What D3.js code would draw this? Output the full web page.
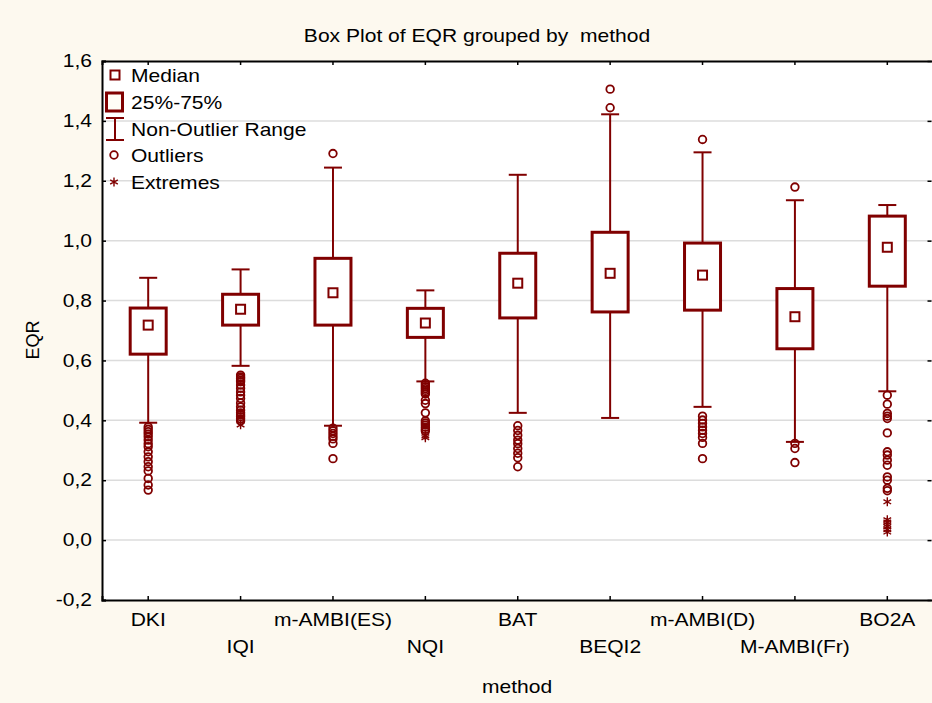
<!DOCTYPE html>
<html>
<head>
<meta charset="utf-8">
<script src="https://cdn.jsdelivr.net/npm/d3@7"></script>
<style>
  html, body { margin: 0; padding: 0; background: #fdf9ef; }
  svg { display: block; }
  text { font-family: "Liberation Sans", Arial, sans-serif; fill: #000; white-space: pre; }
</style>
</head>
<body>
<svg id="chart" width="932" height="703"></svg>
<script>
// EQR box-plot statistics per assessment method
const categories = ["DKI", "IQI", "m-AMBI(ES)", "NQI", "BAT", "BEQI2", "m-AMBI(D)", "M-AMBI(Fr)", "BO2A"];
const whiskerLow  = [0.392, 0.582, 0.382, 0.530, 0.425, 0.408, 0.445, 0.328, 0.497];
const q1          = [0.621, 0.718, 0.718, 0.677, 0.742, 0.762, 0.768, 0.639, 0.848];
const median      = [0.718, 0.771, 0.826, 0.725, 0.858, 0.891, 0.885, 0.746, 0.978];
const q3          = [0.775, 0.821, 0.941, 0.774, 0.958, 1.028, 0.992, 0.840, 1.082];
const whiskerHigh = [0.876, 0.904, 1.244, 0.834, 1.220, 1.422, 1.295, 1.135, 1.119];
const outliers = [
  [0.378, 0.370, 0.362, 0.354, 0.345, 0.334, 0.322, 0.312, 0.295, 0.278, 0.262, 0.245, 0.231, 0.206, 0.184, 0.167],
  [0.551, 0.545, 0.540, 0.534, 0.529, 0.518, 0.507, 0.495, 0.484, 0.473, 0.458, 0.445, 0.434, 0.425, 0.418, 0.412, 0.405, 0.398],
  [1.291, 0.374, 0.365, 0.356, 0.347, 0.338, 0.323, 0.272],
  [0.524, 0.518, 0.512, 0.506, 0.500, 0.494, 0.488, 0.467, 0.456, 0.425, 0.398, 0.391, 0.384, 0.377, 0.370, 0.364],
  [0.382, 0.366, 0.350, 0.334, 0.322, 0.306, 0.290, 0.275, 0.245],
  [1.506, 1.444],
  [1.338, 0.414, 0.401, 0.390, 0.378, 0.367, 0.356, 0.343, 0.323, 0.272],
  [1.179, 0.323, 0.306, 0.259],
  [0.484, 0.454, 0.423, 0.414, 0.406, 0.358, 0.295, 0.284, 0.267, 0.250, 0.211, 0.200, 0.173, 0.165]
];
const extremes = [
  [],
  [0.385],
  [],
  [0.348, 0.342],
  [],
  [],
  [],
  [],
  [0.128, 0.068, 0.060, 0.052, 0.045, 0.035, 0.027]
];
const yTicks = [-0.2, 0, 0.2, 0.4, 0.6, 0.8, 1.0, 1.2, 1.4, 1.6];
const legendItems = ["Median", "25%-75%", "Non-Outlier Range", "Outliers", "Extremes"];

const color = "#800000";
const stretch = 1.17;            // horizontal widening of all lettering
const svg = d3.select("#chart");
const plot = { left: 102, right: 933.5, top: 61, bottom: 600 };

const x = d3.scaleBand().domain(categories).range([plot.left, plot.right]).padding(0);
const y = d3.scaleLinear().domain([-0.2, 1.6]).range([plot.bottom, plot.top]);
const cx = c => x(c) + x.bandwidth() / 2;
const fmt = v => d3.format(".1f")(v).replace(".", ",").replace("−", "-");

// text placed at (tx, ty) and widened horizontally around that point
function label(tx, ty, str, size, anchor) {
  return svg.append("text")
    .attr("transform", `translate(${tx},${ty}) scale(${stretch},1)`)
    .attr("text-anchor", anchor || "start")
    .attr("font-size", size)
    .text(str);
}

// plot background
svg.append("rect")
  .attr("x", plot.left).attr("y", plot.top)
  .attr("width", plot.right - plot.left).attr("height", plot.bottom - plot.top)
  .attr("fill", "#ffffff");

// horizontal grid
svg.append("g").selectAll("line").data(yTicks.filter(t => t > -0.2 && t < 1.6)).join("line")
  .attr("x1", plot.left).attr("x2", plot.right)
  .attr("y1", d => y(d)).attr("y2", d => y(d))
  .attr("stroke", "#dcdcdc").attr("stroke-width", 1.5);

// axes
const yAxis = svg.append("g").attr("transform", `translate(${plot.left},0)`)
  .call(d3.axisLeft(y).tickValues(yTicks).tickFormat(fmt).tickSize(-4).tickPadding(8.5));
const yAxisR = svg.append("g").attr("transform", `translate(${plot.right - 2},0)`)
  .call(d3.axisRight(y).tickValues(yTicks).tickFormat("").tickSize(-4));
const xAxis = svg.append("g").attr("transform", `translate(0,${plot.bottom})`)
  .call(d3.axisBottom(x).tickSize(-4).tickPadding(10));
const xAxisTop = svg.append("g").attr("transform", `translate(0,${plot.top})`)
  .call(d3.axisTop(x).tickSize(-4).tickFormat(""));

[yAxis, yAxisR, xAxis, xAxisTop].forEach(g => {
  g.select(".domain").attr("stroke", "#000").attr("stroke-width", 2);
  g.selectAll(".tick line").attr("stroke", "#000").attr("stroke-width", 1.5);
});
yAxisR.select(".domain").remove();
yAxis.selectAll(".tick text")
  .attr("font-size", 18).attr("fill", "#000")
  .attr("transform", `scale(${stretch},1)`);
xAxis.selectAll(".tick text")
  .attr("font-size", 18).attr("fill", "#000")
  .attr("transform", `scale(${stretch},1)`)
  .attr("dy", (d, i) => (i % 2 ? "2.38em" : "0.88em"));

// title and axis titles
label(477, 42, "Box Plot of EQR grouped by  method", 18, "middle");
svg.append("text").attr("transform", "translate(39,340) rotate(-90)").attr("text-anchor", "middle")
  .attr("font-size", 18).text("EQR");
label(517, 693, "method", 18, "middle");

// box plots
const boxW = 36, capW = 18;
const boxes = svg.append("g");
categories.forEach((c, i) => {
  const g = boxes.append("g");
  const xc = cx(c);
  // whiskers
  g.append("line").attr("x1", xc).attr("x2", xc).attr("y1", y(q3[i])).attr("y2", y(whiskerHigh[i]))
    .attr("stroke", color).attr("stroke-width", 2);
  g.append("line").attr("x1", xc).attr("x2", xc).attr("y1", y(q1[i])).attr("y2", y(whiskerLow[i]))
    .attr("stroke", color).attr("stroke-width", 2);
  [whiskerHigh[i], whiskerLow[i]].forEach(v => {
    g.append("line").attr("x1", xc - capW / 2).attr("x2", xc + capW / 2).attr("y1", y(v)).attr("y2", y(v))
      .attr("stroke", color).attr("stroke-width", 2);
  });
  // interquartile box
  g.append("rect").attr("x", xc - boxW / 2).attr("y", y(q3[i]))
    .attr("width", boxW).attr("height", y(q1[i]) - y(q3[i]))
    .attr("fill", "#ffffff").attr("stroke", color).attr("stroke-width", 3);
  // median marker
  g.append("rect").attr("x", xc - 4.5).attr("y", y(median[i]) - 4.5).attr("width", 9).attr("height", 9)
    .attr("fill", "#ffffff").attr("stroke", color).attr("stroke-width", 2);
  // outliers
  g.selectAll("circle").data(outliers[i]).join("circle")
    .attr("cx", xc).attr("cy", d => y(d)).attr("r", 3.8)
    .attr("fill", "none").attr("stroke", color).attr("stroke-width", 1.8);
  // extremes
  g.selectAll("path").data(extremes[i]).join("path")
    .attr("transform", d => `translate(${xc},${y(d)})`)
    .attr("d", d3.symbol(d3.symbolAsterisk, 55))
    .attr("fill", "none").attr("stroke", color).attr("stroke-width", 1.4);
});

// legend
const lg = svg.append("g");
const rowY = [75, 102, 129, 155, 182];
lg.append("rect").attr("x", 110.5).attr("y", rowY[0] - 4.5).attr("width", 9).attr("height", 9)
  .attr("fill", "#ffffff").attr("stroke", color).attr("stroke-width", 2);
lg.append("rect").attr("x", 106.5).attr("y", rowY[1] - 9).attr("width", 16).attr("height", 18)
  .attr("fill", "#fffdf6").attr("stroke", color).attr("stroke-width", 3);
lg.append("line").attr("x1", 115).attr("x2", 115).attr("y1", rowY[2] - 11).attr("y2", rowY[2] + 11)
  .attr("stroke", color).attr("stroke-width", 2);
[-11, 11].forEach(o => lg.append("line").attr("x1", 106).attr("x2", 124)
  .attr("y1", rowY[2] + o).attr("y2", rowY[2] + o).attr("stroke", color).attr("stroke-width", 2));
lg.append("circle").attr("cx", 114).attr("cy", rowY[3]).attr("r", 3.8)
  .attr("fill", "none").attr("stroke", color).attr("stroke-width", 1.8);
lg.append("path").attr("transform", `translate(114,${rowY[4]})`)
  .attr("d", d3.symbol(d3.symbolAsterisk, 55))
  .attr("fill", "none").attr("stroke", color).attr("stroke-width", 1.4);
legendItems.forEach((d, i) => label(131, rowY[i] + 6.5, d, 18, "start"));
</script>
</body>
</html>
